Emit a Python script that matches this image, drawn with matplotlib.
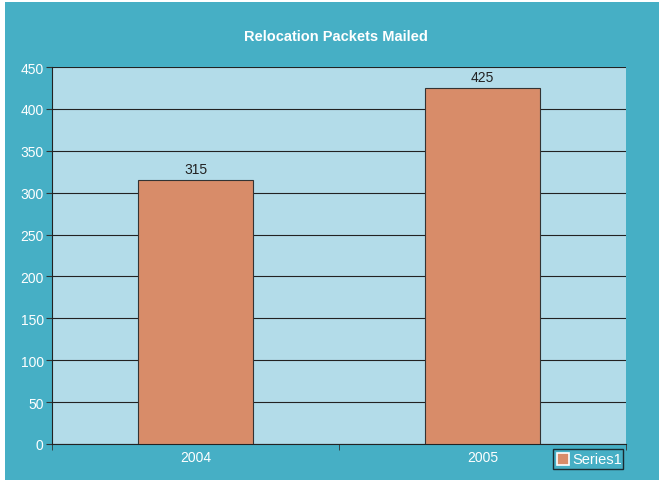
import matplotlib
matplotlib.use("Agg")
import matplotlib.pyplot as plt
from matplotlib.patches import Rectangle
import numpy as np

plt.rcParams["font.family"] = ["Liberation Sans", "DejaVu Sans"]

categories = ["2004", "2005"]
values = [315, 425]
series_name = "Series1"
title = "Relocation Packets Mailed"

W, H = 659, 481
fig = plt.figure(figsize=(W/100, H/100), dpi=100)
fig.patch.set_facecolor("white")
fig.patches.append(Rectangle((5/W, 0), 1 - 5/W, 1 - 3/H, transform=fig.transFigure,
                             facecolor="#46AFC5", edgecolor="none", zorder=-10))

ax = fig.add_axes([52/W, (H-445)/H, (626-52)/W, (445-68)/H])
ax.set_facecolor("#B3DCE9")
x = np.arange(len(categories))
bars = ax.bar(x, values, width=0.4, color="#D88C69", edgecolor="#333333", linewidth=0.8, zorder=3)
ax.set_xlim(-0.5, len(categories) - 0.5)
ax.set_ylim(0, 450)
ax.set_yticks(np.arange(0, 451, 50))
ax.yaxis.grid(True, color="#222222", linewidth=0.8, zorder=1)
ax.set_axisbelow(True)
ax.spines["right"].set_visible(False)
ax.spines["top"].set_visible(False)
for s in ["left", "bottom"]:
    ax.spines[s].set_color("#222222")
ax.set_xticks(x)
ax.set_xticklabels(categories)
ax.set_xticks([-0.5, 0.5, 1.5], minor=True)
ax.tick_params(axis="x", which="major", length=0, colors="white", labelsize=10, pad=4)
ax.tick_params(axis="x", which="minor", length=4, color="#333333", direction="out")
ax.tick_params(axis="y", length=4, color="#333333", colors="white", labelsize=10, pad=2)
for lab in ax.get_yticklabels():
    lab.set_color("white")
for xi, v in zip(x, values):
    ax.text(xi, v + 5, str(v), ha="center", va="bottom", fontsize=10, color="#222222")

fig.text(336/W, 1 - 37/H, title, ha="center", va="center", color="white",
         fontsize=10.5, fontweight="bold")

# legend
fig.patches.append(Rectangle((553/W, 1 - 470/H), 70/W, 20/H, transform=fig.transFigure,
                             facecolor="none", edgecolor="#1a2a30", linewidth=1.0))
fig.patches.append(Rectangle((557/W, 1 - 466/H), 12/W, 12/H, transform=fig.transFigure,
                             facecolor="#D88C69", edgecolor="white", linewidth=1.2))
fig.text(572/W, 1 - 460/H, series_name, ha="left", va="center", color="white", fontsize=10.5)

fig.savefig("out.png", dpi=100, facecolor=fig.get_facecolor())
